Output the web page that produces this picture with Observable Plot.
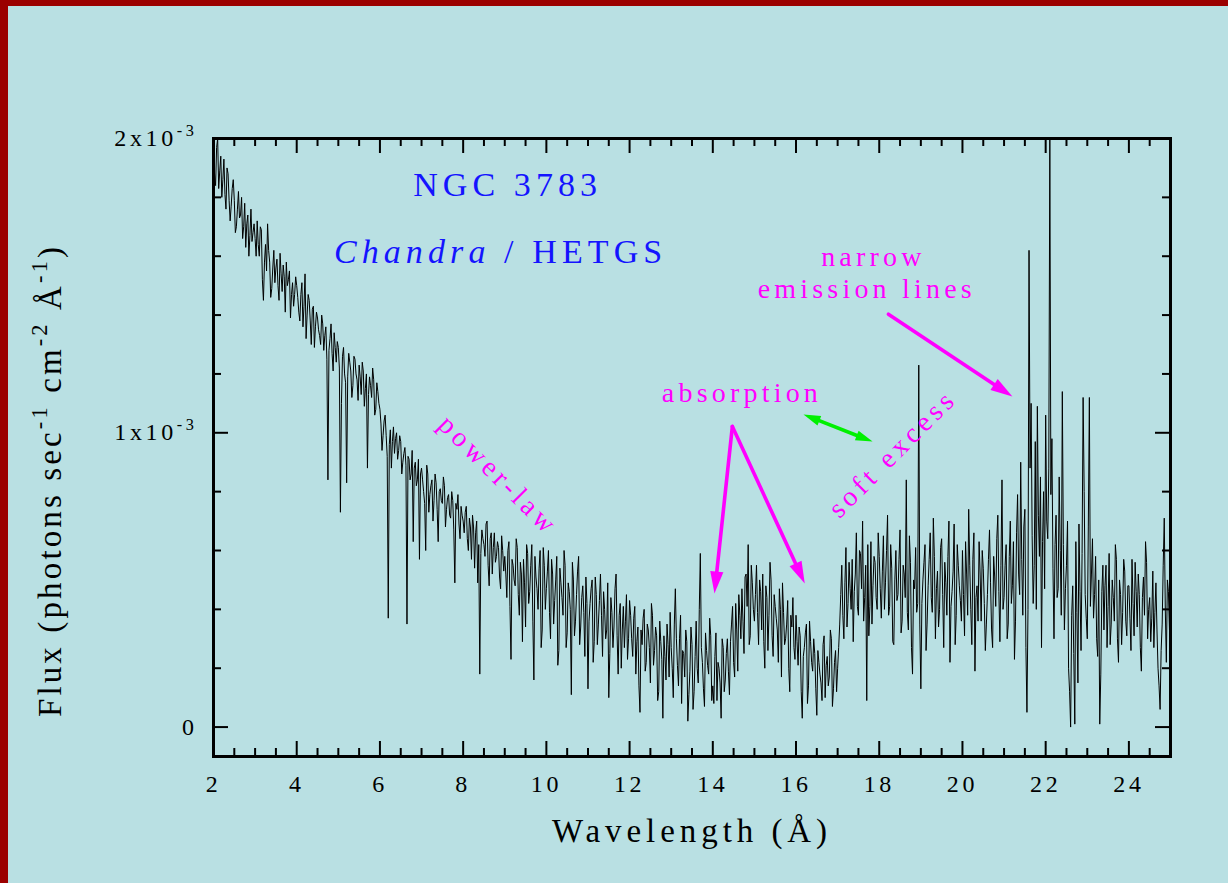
<!DOCTYPE html>
<html><head><meta charset="utf-8">
<script src="https://cdn.jsdelivr.net/npm/d3@7"></script>
<script src="https://cdn.jsdelivr.net/npm/@observablehq/plot@0.6"></script>
<style>
html,body{margin:0;padding:0;background:#b9e0e3;overflow:hidden;width:1228px;height:883px;}
#chart{position:absolute;left:0;top:0;}
.bl{position:absolute;left:0;top:0;width:8px;height:883px;background:#9b0000;}
.bt{position:absolute;left:0;top:0;width:1228px;height:6px;background:#9b0000;}
svg text{letter-spacing:0.15em;font-family:"Liberation Serif","Times New Roman",Times,serif !important;}
</style></head><body>
<div id="chart"></div><div class="bl"></div><div class="bt"></div>
<script>
// Spectrum: flux in units of 1e-5 photons/s/cm2/Å
// fluxE5 at wavelengths 2.00, 2.05, ... 25.00 Å; fluxMidE5 at 2.025, 2.075, ... 24.975 Å
const lambdaStart = 2.0;
const lambdaStep = 0.05;
const fluxE5 = [
196,184,201,189,180,193,176,188,172,183,179,170,182,174,166,178,171,160,176,168,
166,172,160,169,145,164,171,158,149,162,156,150,161,148,153,158,152,139,151,147,
150,141,147,136,154,140,145,130,143,136,139,133,140,128,136,84,132,127,134,124,
129,73,126,120,83,127,121,116,125,118,123,113,121,115,88,119,112,118,108,114,
108,94,104,99,37,101,97,93,100,94,97,90,95,35,91,86,63,90,84,57,
88,80,60,86,79,84,77,83,63,81,76,82,74,79,71,77,49,74,69,75,
70,73,64,71,57,68,66,49,18,67,62,69,55,64,52,66,58,61,47,60,
58,44,63,23,55,48,61,38,52,57,34,59,46,62,16,51,40,60,33,55,
47,60,30,52,43,58,26,49,38,55,32,46,11,50,36,53,28,44,39,51,
13,42,50,29,45,35,52,24,40,33,10,44,27,47,31,38,20,41,36,23,
43,30,37,18,34,5,28,40,22,33,15,38,26,31,12,29,3,24,35,17,
27,10,47,21,30,8,25,33,2,19,28,12,36,15,59,22,7,26,18,31,
14,24,9,20,3,27,16,30,11,35,22,42,19,38,47,25,52,62,31,49,
36,55,28,46,52,20,44,38,50,24,41,33,47,17,39,30,43,12,34,27,
38,21,31,3,27,35,14,29,19,25,4,22,15,28,10,24,17,30,13,26,
20,35,55,30,61,42,47,57,46,66,38,59,70,44,9,31,63,48,56,40,
58,37,65,49,72,41,54,28,60,45,67,36,52,84,33,56,18,47,39,123,
13,50,62,35,57,44,71,30,53,40,64,27,49,58,22,46,69,38,55,43,
60,31,52,74,40,57,19,48,63,36,54,26,45,67,33,58,41,72,29,84,
44,62,35,70,48,23,66,52,90,38,74,5,162,110,42,97,109,58,27,80,
106,64,225,98,30,72,47,60,114,33,55,20,0,48,1,39,69,26,112,45,
30,112,52,37,58,24,1,46,33,55,41,28,50,36,57,22,45,39,53,31,
48,26,42,56,34,45,19,51,63,30,44,37,27,49,20,6,35,71,22,46,
38
];
const fluxMidE5 = [
188,197,183,194,186,181,190,179,177,186,168,176,173,180,170,163,174,167,165,171,
160,164,170,152,158,155,162,146,156,151,159,145,154,157,141,150,155,147,143,153,
146,138,151,143,132,147,138,142,129,141,135,130,137,133,125,128,137,121,129,131,
122,110,129,117,119,124,112,126,120,111,119,124,109,120,113,116,122,106,117,110,
103,99,106,92,96,88,102,98,91,99,86,93,89,92,84,94,88,82,91,86,
84,76,89,73,82,70,86,74,80,77,85,68,78,72,80,67,76,79,64,72,
66,75,60,68,72,54,70,62,59,64,58,70,48,66,61,56,63,51,65,53,
52,60,41,57,50,64,45,56,29,49,62,42,55,36,58,47,54,27,61,40,
53,39,57,35,50,21,54,44,60,27,49,40,56,31,45,58,34,48,24,42,
36,47,22,51,28,43,38,46,30,49,25,39,34,52,18,42,33,27,45,30,
38,24,41,29,14,33,37,19,35,27,42,21,34,9,36,23,31,16,28,39,
20,35,30,14,38,26,17,29,11,34,6,24,20,40,27,13,32,21,37,9,
8,32,22,15,30,12,25,19,29,41,17,33,45,30,36,51,41,28,55,40,
45,39,50,33,29,48,26,56,31,45,37,22,40,49,28,35,20,38,44,23,
29,34,12,24,32,8,36,22,30,13,26,18,9,31,21,14,33,7,22,12,
27,45,38,49,34,56,40,29,52,41,60,47,36,55,62,41,35,58,44,66,
47,53,40,60,38,62,29,50,43,57,32,55,44,39,65,27,50,61,42,35,
42,56,26,48,66,39,58,47,34,61,45,56,38,70,41,53,28,62,48,36,
45,63,38,55,28,66,44,36,52,60,42,35,57,49,27,51,64,46,55,40,
55,30,58,42,63,36,79,45,57,68,27,40,88,65,55,40,72,85,63,47,
70,88,79,54,62,44,85,38,62,47,70,12,38,25,63,15,46,59,80,37,
68,41,64,45,30,50,18,55,48,27,59,35,44,62,30,50,28,57,36,48,
37,57,31,46,52,27,44,38,56,40,29,53,39,33,14,26,55,40,50,33
];

// Axis ticks
const xTickValues = [2,4,6,8,10,12,14,16,18,20,22,24];
const yTickValues = [0, 0.001, 0.002];
const yTickLabels = ["0", "1x10^{-3}", "2x10^{-3}"];
const yMinorValues = [0.0002,0.0004,0.0006,0.0008,0.0012,0.0014,0.0016,0.0018];

// Annotation labels (data coordinates)
const labelText   = ["NGC 3783", "*Chandra* / HETGS", "narrow", "emission lines", "absorption", "power-law", "soft excess"];
const labelX      = [9.07, 8.90, 17.86, 17.70, 14.70, 8.85, 18.32];
const labelY      = [1.840e-3, 1.615e-3, 1.596e-3, 1.487e-3, 1.136e-3, 0.855e-3, 0.930e-3];
const labelColor  = ["#1414ff", "#1414ff", "#ff00ff", "#ff00ff", "#ff00ff", "#ff00ff", "#ff00ff"];
const labelSize   = [34, 34, 28, 28, 28, 28, 28];
const labelRotate = [0, 0, 0, 0, 0, 45, -45];

// Annotation arrows (data coordinates)
const arrowX1 = [18.22, 14.47, 14.47];
const arrowY1 = [1.403e-3, 1.0215e-3, 1.0215e-3];
const arrowX2 = [21.20, 14.04, 16.21];
const arrowY2 = [1.123e-3, 0.454e-3, 0.488e-3];
const dblX1 = [16.18], dblY1 = [1.062e-3], dblX2 = [17.84], dblY2 = [0.970e-3];

// ---- layout
const W = 1228, H = 883;
const mL = 213, mR = 58, mT = 138, mB = 127;
const xDomain = [2, 25], yDomain = [-0.0001, 0.002];
const frameW = W - mL - mR, frameH = H - mT - mB;

const spectrum = [
  ...fluxE5.map((f, i) => ({lambda: lambdaStart + i * lambdaStep, flux: f * 1e-5})),
  ...fluxMidE5.map((f, i) => ({lambda: lambdaStart + (i + 0.5) * lambdaStep, flux: f * 1e-5}))
].sort((a, b) => a.lambda - b.lambda);
const xMinor = d3.range(2.5, 25.01, 0.5).filter(v => Math.abs(v % 2) > 1e-6);

const xs = d3.scaleLinear(xDomain, [mL, W - mR]);
const ys = d3.scaleLinear(yDomain, [H - mB, mT]);
const angle = (xa, ya, xb, yb) => Math.atan2(xs(xb) - xs(xa), -(ys(yb) - ys(ya))) * 180 / Math.PI;

const headSymbol = {
  draw(ctx, size) {
    const s = Math.sqrt(size);
    ctx.moveTo(0, 0);
    ctx.lineTo(s * 0.3, s);
    ctx.lineTo(-s * 0.3, s);
    ctx.closePath();
  }
};

const magHeads = arrowX1.map((_, i) => ({x: arrowX2[i], y: arrowY2[i], a: angle(arrowX1[i], arrowY1[i], arrowX2[i], arrowY2[i])}));
const greenHeads = [
  {x: dblX2[0], y: dblY2[0], a: angle(dblX1[0], dblY1[0], dblX2[0], dblY2[0])},
  {x: dblX1[0], y: dblY1[0], a: angle(dblX2[0], dblY2[0], dblX1[0], dblY1[0])}
];

const serif = "'Liberation Serif', 'Times New Roman', Times, serif";
const idx = labelText.map((_, i) => i);

const plot = Plot.plot({
  width: W, height: H,
  marginLeft: mL, marginRight: mR, marginTop: mT, marginBottom: mB,
  style: {background: "#b9e0e3", color: "black", fontFamily: serif, overflow: "visible"},
  x: {domain: xDomain},
  y: {domain: yDomain, clamp: true},
  marks: [
    Plot.line(spectrum, {x: "lambda", y: "flux", stroke: "black", strokeWidth: 1}),
    Plot.frame({stroke: "black", strokeWidth: 3}),
    // inward ticks
    Plot.ruleX(xTickValues, {stroke: "black", strokeWidth: 2, insetTop: frameH - 15}),
    Plot.ruleX(xTickValues, {stroke: "black", strokeWidth: 2, insetBottom: frameH - 15}),
    Plot.ruleX(xMinor, {stroke: "black", strokeWidth: 2, insetTop: frameH - 8}),
    Plot.ruleX(xMinor, {stroke: "black", strokeWidth: 2, insetBottom: frameH - 8}),
    Plot.ruleY(yTickValues, {stroke: "black", strokeWidth: 2, insetRight: frameW - 15}),
    Plot.ruleY(yTickValues, {stroke: "black", strokeWidth: 2, insetLeft: frameW - 15}),
    Plot.ruleY(yMinorValues, {stroke: "black", strokeWidth: 2, insetRight: frameW - 8}),
    Plot.ruleY(yMinorValues, {stroke: "black", strokeWidth: 2, insetLeft: frameW - 8}),
    // tick labels
    Plot.axisX({ticks: xTickValues, tickSize: 0, tickPadding: 18, fontSize: 24, label: null, tickFormat: d => String(d)}),
    Plot.axisY({ticks: yTickValues, tickSize: 0, tickPadding: 16, fontSize: 24, label: null,
      tickFormat: d => yTickLabels[yTickValues.indexOf(d)]}),
    // axis titles
    Plot.text(["Wavelength (Å)"], {frameAnchor: "bottom", dy: 75, fontSize: 33, lineAnchor: "middle", textAnchor: "middle", fill: "black"}),
    Plot.text(["Flux (photons sec^{-1} cm^{-2} Å^{-1})"], {frameAnchor: "left", dx: -163, dy: 33, rotate: -90, fontSize: 33,
      lineAnchor: "middle", textAnchor: "middle", fill: "black"}),
    // annotations
    ...idx.map(i => Plot.text([i], {x: () => labelX[i], y: () => labelY[i], text: () => labelText[i],
      fill: labelColor[i], fontSize: labelSize[i], rotate: labelRotate[i], lineAnchor: "middle", textAnchor: "middle"})),
    Plot.arrow(arrowX1.map((_, i) => i), {x1: i => arrowX1[i], y1: i => arrowY1[i], x2: i => arrowX2[i], y2: i => arrowY2[i],
      stroke: "#ff00ff", strokeWidth: 3.6, headLength: 0, insetEnd: 12, strokeLinecap: "round"}),
    Plot.dot(magHeads, {x: "x", y: "y", rotate: "a", symbol: headSymbol, r: 12.4, fill: "#ff00ff", stroke: "none"}),
    Plot.arrow([0], {x1: () => dblX1[0], y1: () => dblY1[0], x2: () => dblX2[0], y2: () => dblY2[0],
      stroke: "#00f000", strokeWidth: 3.6, headLength: 0, insetStart: 10, insetEnd: 10, strokeLinecap: "butt"}),
    Plot.dot(greenHeads, {x: "x", y: "y", rotate: "a", symbol: headSymbol, r: 9.6, fill: "#00f000", stroke: "none"})
  ]
});

document.getElementById("chart").append(plot);

// Rich text: ^{...} superscripts, *...* italics
const NS = "http://www.w3.org/2000/svg";
plot.querySelectorAll("text").forEach(t => {
  const s = t.textContent;
  if (!s.includes("^{") && !s.includes("*")) return;
  const fs = parseFloat(getComputedStyle(t).fontSize);
  if (s.startsWith("Flux")) t.style.letterSpacing = "0.095em";
  t.textContent = "";
  const re = /\^\{([^}]*)\}|\*([^*]*)\*|([^\^*]+)/g;
  let m, raised = false;
  while ((m = re.exec(s))) {
    const ts = document.createElementNS(NS, "tspan");
    if (m[1] !== undefined) {
      ts.textContent = m[1];
      ts.setAttribute("font-size", (fs * 0.68).toFixed(1));
      ts.setAttribute("dy", (-fs * 0.42).toFixed(1));
      raised = true;
    } else {
      ts.textContent = m[2] !== undefined ? m[2] : m[3];
      if (m[2] !== undefined) ts.setAttribute("font-style", "italic");
      if (raised) { ts.setAttribute("dy", (fs * 0.42).toFixed(1)); raised = false; }
    }
    t.appendChild(ts);
  }
});
</script></body></html>
